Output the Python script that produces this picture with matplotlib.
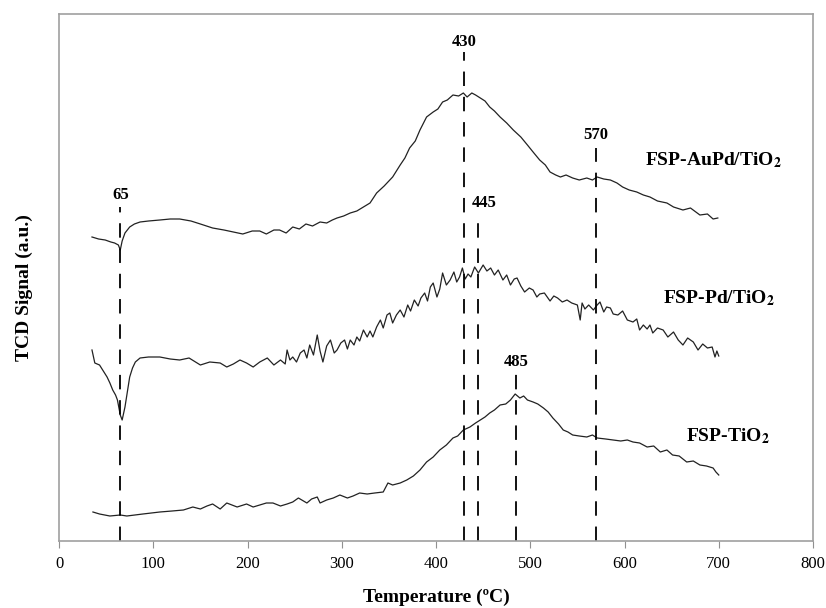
import matplotlib
matplotlib.use('Agg')
import matplotlib.pyplot as plt

# readings (temperature in C, signal in a.u.)
temp_aupd = [35, 42, 49, 55, 59, 63, 65, 67, 70, 75, 80, 86, 95, 107, 118, 128, 140, 150,
             163, 175, 185, 195, 205, 213, 220, 228, 234, 241, 248, 255, 262, 269, 277, 284,
             290, 295, 302, 309, 316, 323, 330, 337, 345, 354, 362, 367, 372, 378, 383, 390,
             397, 402, 407, 412, 418, 424, 429, 433, 438, 442, 447, 452, 457, 462, 468, 475,
             482, 490, 497, 503, 510, 516, 521, 527, 532, 538, 545, 552, 560, 566, 571, 578,
             585, 592, 598, 605, 613, 620, 627, 635, 645, 652, 662, 670, 680, 688, 694, 699]
sig_aupd = [304, 302, 301, 299, 298, 296, 291, 300, 308, 314, 317, 319, 320, 321, 322, 322, 320, 317,
            313, 311, 309, 307, 310, 310, 307, 311, 311, 308, 314, 312, 317, 315, 319, 318,
            321, 323, 325, 328, 330, 334, 338, 348, 355, 364, 376, 383, 393, 400, 411, 424,
            429, 432, 439, 441, 446, 445, 448, 444, 448, 446, 443, 440, 434, 430, 424, 418,
            411, 404, 396, 389, 381, 376, 369, 366, 364, 366, 363, 361, 363, 361, 364, 362,
            361, 358, 354, 351, 349, 346, 344, 340, 338, 334, 331, 333, 326, 327, 322, 323]

temp_pd = [35, 38, 43, 47, 51, 54, 57, 60, 62, 65, 67, 70, 73, 75, 78, 81, 86, 95, 107, 118,
           128, 138, 150, 160, 171, 178, 185, 192, 199, 206, 213, 221, 228, 235, 240, 242, 245,
           248, 252, 256, 260, 263, 266, 270, 274, 277, 280, 284, 288, 292, 295, 299, 303, 306,
           309, 313, 316, 319, 323, 327, 330, 333, 337, 341, 344, 348, 351, 354, 358, 362, 366,
           370, 373, 377, 381, 384, 388, 391, 394, 397, 401, 404, 407, 411, 415, 419, 422, 425,
           428, 431, 434, 437, 441, 445, 450, 454, 458, 462, 466, 471, 475, 479, 483, 486, 490,
           494, 499, 503, 507, 510, 515, 521, 525, 529, 534, 539, 544, 550, 553, 555, 558, 562,
           567, 571, 574, 578, 581, 585, 588, 593, 598, 603, 609, 613, 616, 620, 624, 627, 630,
           635, 641, 646, 652, 657, 662, 667, 673, 678, 683, 688, 693, 696, 698, 700]
sig_pd = [191, 178, 176, 170, 164, 158, 151, 146, 141, 126, 121, 134, 152, 164, 173, 179, 183, 184, 184, 182,
          181, 183, 176, 179, 178, 174, 177, 181, 178, 174, 179, 183, 176, 181, 177, 191, 181,
          184, 179, 188, 191, 183, 196, 186, 206, 190, 179, 195, 201, 188, 191, 198, 201, 192,
          201, 196, 204, 200, 211, 204, 210, 204, 214, 221, 213, 226, 228, 218, 226, 231, 224,
          236, 230, 241, 235, 243, 248, 240, 254, 258, 244, 252, 268, 256, 261, 269, 259, 264,
          273, 262, 267, 264, 274, 268, 276, 270, 273, 266, 271, 261, 266, 256, 262, 263, 255,
          249, 253, 251, 244, 247, 248, 240, 245, 243, 239, 241, 238, 236, 221, 238, 232, 236,
          231, 236, 239, 229, 234, 233, 227, 226, 230, 221, 219, 222, 211, 216, 212, 216, 208,
          213, 211, 204, 209, 201, 196, 203, 199, 191, 197, 193, 194, 184, 190, 185]

temp_ti = [36, 43, 54, 65, 72, 89, 107, 120, 132, 142, 150, 157, 163, 171, 178, 189, 199, 206,
           213, 220, 227, 235, 242, 248, 254, 263, 268, 274, 277, 284, 291, 298, 306, 312, 319,
           327, 335, 344, 349, 354, 362, 369, 376, 383, 390, 397, 404, 411, 418, 423, 429, 436,
           442, 447, 452, 457, 462, 468, 474, 479, 484, 489, 493, 497, 503, 508, 514, 519, 524,
           530, 535, 540, 545, 552, 560, 566, 571, 580, 588, 596, 603, 609, 616, 624, 631, 638,
           645, 651, 658, 666, 673, 680, 687, 694, 697, 700]
sig_ti = [29, 27, 25, 26, 25, 27, 29, 30, 31, 34, 32, 35, 37, 32, 38, 34, 37, 34,
          36, 38, 38, 35, 37, 39, 43, 38, 42, 44, 38, 41, 43, 46, 43, 45, 48,
          47, 48, 49, 58, 56, 58, 61, 65, 71, 79, 84, 91, 96, 103, 105, 111, 114,
          118, 121, 124, 128, 131, 136, 137, 141, 147, 143, 145, 141, 139, 137, 133, 129, 123,
          117, 111, 109, 106, 105, 104, 106, 103, 102, 101, 100, 101, 99, 98, 94, 95, 89,
          91, 86, 85, 79, 80, 76, 75, 73, 69, 66]

peak_temps = [65, 430, 445, 485, 570]
peak_tops = [334, 489, 328, 169, 393]
peak_label_x = [65, 430, 451, 485, 570]
peak_label_y = [346, 499, 338, 179, 406]

series_names = [r'FSP-AuPd/TiO$_\mathbf{2}$', r'FSP-Pd/TiO$_\mathbf{2}$', r'FSP-TiO$_\mathbf{2}$']
series_label_x = [622, 641, 665]
series_label_y = [381, 243, 105]

plt.rcParams['font.family'] = ['Liberation Serif', 'DejaVu Serif']
plt.rcParams['mathtext.fontset'] = 'stix'

fig = plt.figure(figsize=(8.26, 6.08), dpi=100)
ax = fig.add_axes([59 / 826, 1 - 541 / 608, (813 - 59) / 826, (541 - 14) / 608])

for t, s in [(temp_aupd, sig_aupd), (temp_pd, sig_pd), (temp_ti, sig_ti)]:
    ax.plot(t, s, color='#222222', lw=0.9)

for t, top in zip(peak_temps, peak_tops):
    ax.plot([t, t], [0, top], color='black', lw=1.3, dashes=(8, 6))

for x, y, t in zip(peak_label_x, peak_label_y, peak_temps):
    ax.text(x, y, str(t), ha='center', va='center', fontsize=12, fontweight='bold')

for x, y, name in zip(series_label_x, series_label_y, series_names):
    ax.text(x, y, name, ha='left', va='center', fontsize=14, fontweight='bold')

ax.set_xlim(0, 800)
ax.set_ylim(0, 527)
ax.set_xticks(range(0, 801, 100))
ax.set_yticks([])
ax.tick_params(axis='x', direction='out', length=5, color='#909090', labelsize=12, pad=6)
for sp in ax.spines.values():
    sp.set_color('#a0a0a0')
    sp.set_linewidth(1.2)

ax.set_xlabel('Temperature (ºC)', fontsize=14, fontweight='bold', labelpad=12)
ax.set_ylabel('TCD Signal (a.u.)', fontsize=14, fontweight='bold')
ax.yaxis.set_label_coords(-0.035, 0.48)

fig.savefig('out.png', dpi=100)
